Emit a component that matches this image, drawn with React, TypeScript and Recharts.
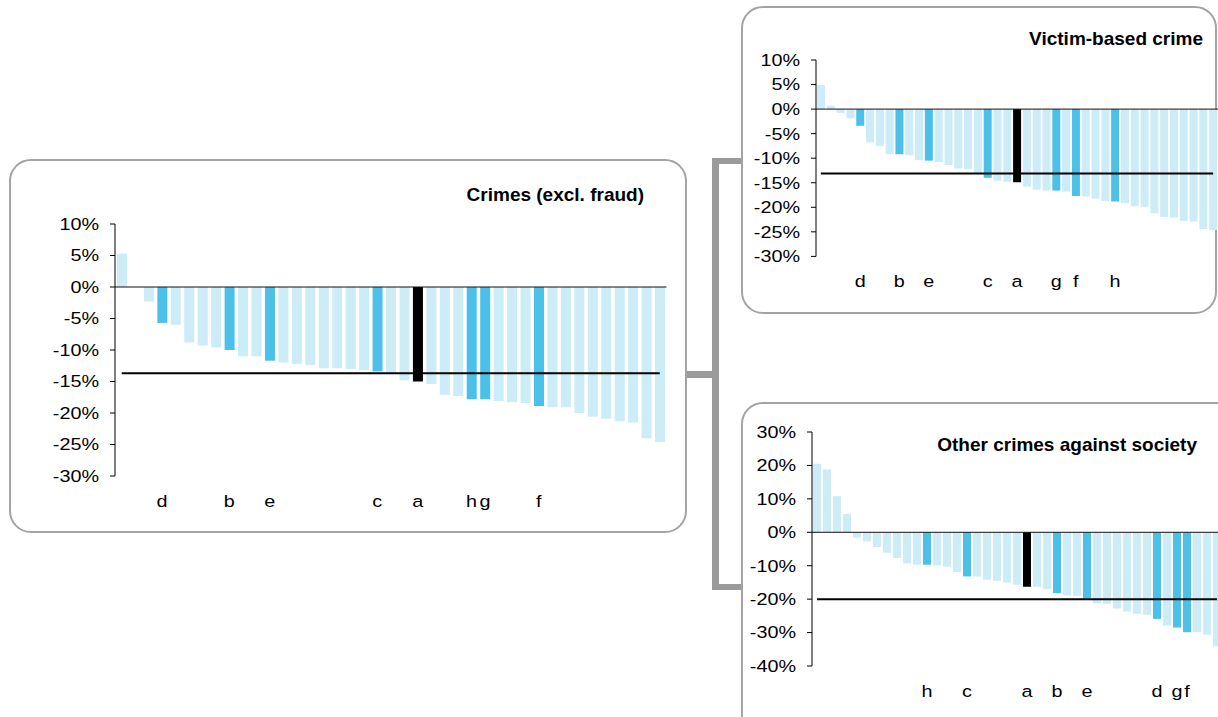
import { ComposedChart, Bar, Cell, Line, XAxis, YAxis, ReferenceLine } from "recharts";

// main panel: crimes excluding fraud
const mainValues = [
  5.3, 0, -2.3, -5.7, -6.0, -8.8, -9.3, -9.6, -10.0, -11.0, -11.0, -11.7, -12.0, -12.2, -12.4, -12.9,
  -12.9, -13.0, -13.2, -13.4, -13.6, -14.8, -15.0, -15.4, -17.1, -17.3, -17.8, -17.8, -18.1, -18.3,
  -18.4, -18.9, -19.1, -19.1, -20.0, -20.6, -20.9, -21.3, -21.5, -24.0, -24.6,
];
const mainLabels = [
  "", "", "", "d", "", "", "", "", "b", "", "", "e", "", "", "", "", "", "", "", "c", "", "", "a",
  "", "", "", "h", "g", "", "", "", "f", "", "", "", "", "", "", "", "", "",
];
const mainAverage = -13.7;

// victim-based crime
const victimValues = [
  4.9, 0.7, -0.8, -1.9, -3.4, -6.8, -7.5, -9.2, -9.2, -9.4, -10.4, -10.5, -10.8, -11.4, -12.1, -12.2,
  -13.2, -14.0, -14.6, -14.8, -14.9, -15.8, -16.4, -16.6, -16.6, -16.8, -17.7, -17.8, -18.2, -18.7,
  -18.8, -19.2, -19.8, -19.9, -21.2, -22.0, -22.1, -22.8, -22.9, -24.4, -24.6,
];
const victimLabels = [
  "", "", "", "", "d", "", "", "", "b", "", "", "e", "", "", "", "", "", "c", "", "", "a", "", "",
  "", "g", "", "f", "", "", "", "h", "", "", "", "", "", "", "", "", "", "",
];
const victimAverage = -13.1;

// other crimes against society
const societyValues = [
  20.5, 18.8, 10.8, 5.5, -1.6, -2.7, -4.4, -6.1, -7.7, -9.3, -9.7, -9.7, -9.9, -10.3, -11.9, -13.2,
  -13.2, -14.2, -14.5, -15.0, -15.7, -16.3, -16.3, -17.0, -18.2, -18.9, -19.0, -19.8, -21.3, -21.4,
  -22.8, -23.7, -24.4, -24.7, -25.9, -27.9, -28.5, -29.9, -29.9, -30.6, -34.1,
];
const societyLabels = [
  "", "", "", "", "", "", "", "", "", "", "", "h", "", "", "", "c", "", "", "", "", "", "a", "", "",
  "b", "", "", "e", "", "", "", "", "", "", "d", "", "g", "f", "", "", "",
];
const societyAverage = -20.0;

const crimeTicks = [10, 5, 0, -5, -10, -15, -20, -25, -30];
const societyTicks = [30, 20, 10, 0, -10, -20, -30, -40];

const FONT = "'Liberation Sans', Arial, sans-serif";
const LIGHT = "#CCECF8";
const BLUE = "#4BC1EA";
const BORDER = "#A3A3A3";
const BRACKET = "#9B9B9B";
const TICK_SIZE = 16.5;
const STRETCH = 1.2;

const YW = 70;
const MT = 12;
const MR = 4;
const XH = 36;
const MB = 4;

type Rect = { x0: number; x1: number; y0: number; y1: number };

function barColor(label: string) {
  if (label === "a") return "#000";
  if (label) return BLUE;
  return LIGHT;
}

// the original labels are drawn a little wide, so stretch them sideways
function YTick(props: any) {
  const { x, y, payload } = props;
  return (
    <g transform={`translate(${x},${y})`}>
      <text
        transform={`scale(${STRETCH},1)`}
        textAnchor="end"
        dy="0.355em"
        fill="#000"
        fontSize={TICK_SIZE}
        fontFamily={FONT}
      >
        {`${payload.value}%`}
      </text>
    </g>
  );
}

function XTick(props: any) {
  const { x, y, payload } = props;
  if (!payload.value) return <g />;
  return (
    <g transform={`translate(${x},${y})`}>
      <text
        transform={`scale(${STRETCH},1)`}
        textAnchor="middle"
        dy="0.71em"
        fill="#000"
        fontSize={TICK_SIZE}
        fontFamily={FONT}
      >
        {payload.value}
      </text>
    </g>
  );
}

function Panel({
  values,
  labels,
  average,
  ticks,
  plot,
  barSize,
}: {
  values: number[];
  labels: string[];
  average: number;
  ticks: number[];
  plot: Rect;
  barSize: number;
}) {
  const rows = values.map((v, i) => ({ name: labels[i], value: v, avg: average }));
  const width = plot.x1 - plot.x0 + YW + MR;
  const height = plot.y1 - plot.y0 + MT + XH + MB;
  const lo = ticks[ticks.length - 1];
  const hi = ticks[0];

  return (
    <div style={{ position: "absolute", left: plot.x0 - YW, top: plot.y0 - MT }}>
      <ComposedChart
        width={width}
        height={height}
        data={rows}
        margin={{ top: MT, right: MR, bottom: MB, left: 0 }}
      >
        <XAxis
          dataKey="name"
          axisLine={false}
          tickLine={false}
          interval={0}
          height={XH}
          tickSize={0}
          tickMargin={19}
          tick={<XTick />}
        />
        <YAxis
          type="number"
          domain={[lo, hi]}
          ticks={ticks}
          interval={0}
          width={YW}
          tickSize={5}
          tickMargin={11}
          axisLine={{ stroke: "#000" }}
          tickLine={{ stroke: "#000" }}
          tick={<YTick />}
        />
        <Bar dataKey="value" barSize={barSize} isAnimationActive={false}>
          {rows.map((r, i) => (
            <Cell key={i} fill={barColor(r.name)} />
          ))}
        </Bar>
        <ReferenceLine y={0} stroke="#111" strokeWidth={1} />
        <Line
          dataKey="avg"
          type="linear"
          stroke="#000"
          strokeWidth={2}
          dot={false}
          activeDot={false}
          isAnimationActive={false}
        />
      </ComposedChart>
    </div>
  );
}

function Box({ left, top, width, height }: { left: number; top: number; width: number; height: number }) {
  return (
    <div
      style={{
        position: "absolute",
        left,
        top,
        width,
        height,
        boxSizing: "border-box",
        border: `2px solid ${BORDER}`,
        borderRadius: 22,
        background: "#fff",
      }}
    />
  );
}

function Title({ text, right, centerY }: { text: string; right: number; centerY: number }) {
  return (
    <div
      style={{
        position: "absolute",
        left: right - 400,
        width: 400,
        top: centerY - 11,
        lineHeight: "22px",
        textAlign: "right",
        fontFamily: FONT,
        fontWeight: "bold",
        fontSize: 19,
        color: "#000",
        whiteSpace: "nowrap",
      }}
    >
      {text}
    </div>
  );
}

function Seg({ left, top, width, height }: { left: number; top: number; width: number; height: number }) {
  return <div style={{ position: "absolute", left, top, width, height, background: BRACKET }} />;
}

export default function App() {
  return (
    <div
      style={{
        position: "fixed",
        left: 0,
        top: 0,
        width: 1218,
        height: 717,
        overflow: "hidden",
        background: "#fff",
      }}
    >
      {/* bracket joining the panels */}
      <Seg left={686} top={371} width={27} height={7} />
      <Seg left={712} top={158} width={7} height={432} />
      <Seg left={712} top={158} width={30} height={6} />
      <Seg left={712} top={584} width={30} height={6} />

      <Box left={9} top={159} width={678} height={374} />
      <Box left={741} top={6} width={476} height={308} />
      <Box left={741} top={402} width={500} height={400} />

      <Panel
        values={mainValues}
        labels={mainLabels}
        average={mainAverage}
        ticks={crimeTicks}
        plot={{ x0: 114.5, x1: 666, y0: 224.3, y1: 476.3 }}
        barSize={10}
      />
      <Panel
        values={victimValues}
        labels={victimLabels}
        average={victimAverage}
        ticks={crimeTicks}
        plot={{ x0: 816, x1: 1218, y0: 60.3, y1: 256.7 }}
        barSize={8}
      />
      <Panel
        values={societyValues}
        labels={societyLabels}
        average={societyAverage}
        ticks={societyTicks}
        plot={{ x0: 811.5, x1: 1221.5, y0: 432, y1: 666 }}
        barSize={8}
      />

      <Title text="Crimes (excl. fraud)" right={644} centerY={195} />
      <Title text="Victim-based crime" right={1203} centerY={39} />
      <Title text="Other crimes against society" right={1197} centerY={445} />
    </div>
  );
}
